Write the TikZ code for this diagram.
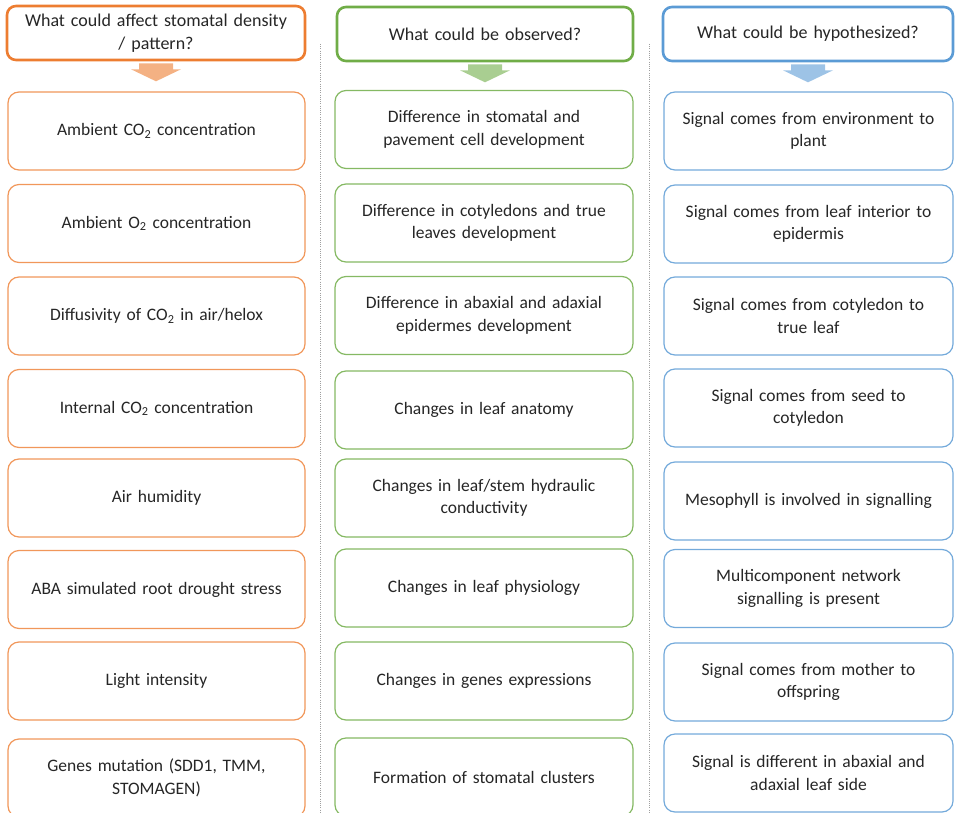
\documentclass[tikz,border=0pt]{standalone}
\usepackage{fontspec}
\setmainfont{Carlito}
\definecolor{orgL}{HTML}{ED7D31}
\definecolor{grnM}{HTML}{70AD47}
\definecolor{bluR}{HTML}{5B9BD5}
\begin{document}
\begin{tikzpicture}[x=1pt,y=-1pt]
	\tikzstyle{hd}=[rectangle,rounded corners=9pt,line width=2.6pt,fill=white,minimum height=54pt,text width=285pt,align=center,inner sep=0,font=\fontsize{18}{23}\selectfont,text=black!85]
	\tikzstyle{box}=[rectangle,rounded corners=11pt,line width=1.2pt,fill=white,minimum height=78pt,text width=285pt,align=center,inner sep=0,font=\fontsize{17.5}{22.5}\selectfont,text=black!85]
	\tikzstyle{sep}=[gray!75,line width=0.9pt,dash pattern=on 1pt off 1.2pt]
	
	\useasboundingbox (0,0) rectangle (955,813);
	
	% separators
	\coordinate (s1a) at (320,44);
	\coordinate (s1b) at (320,813);
	\coordinate (s2a) at (649,44);
	\coordinate (s2b) at (649,813);
	\draw[sep] (s1a)--(s1b);
	\draw[sep] (s2a)--(s2b);
	
	% headers
	\node [hd,draw=orgL,minimum width=298pt] (hL) at (156,33) {What could affect stomatal density\\ / pattern?};
	\node [hd,draw=grnM,minimum width=296pt] (hM) at (485,34) {What could be observed?};
	\node [hd,draw=bluR,minimum width=290pt,text width=280pt] (hR) at (808,34) {What could be hypothesized?};
	
	% block arrows
	\fill[orgL!60,shift={(hL.south)}] (-17,2)--(17,2)--(17,8)--(25,8)--(0,20)--(-25,8)--(-17,8)--cycle;
	\fill[grnM!60,shift={(hM.south)}] (-17,2)--(17,2)--(17,8)--(25,8)--(0,20)--(-25,8)--(-17,8)--cycle;
	\fill[bluR!60,shift={(hR.south)}] (-17,2)--(17,2)--(17,8)--(25,8)--(0,20)--(-25,8)--(-17,8)--cycle;
	
	% affecting factors
	\node [box,draw=orgL!80,minimum width=297pt] (l1) at (156.5,131) {Ambient CO\textsubscript{2} concentration};
	\node [box,draw=orgL!80,minimum width=297pt] (l2) at (156.5,223.5) {Ambient O\textsubscript{2} concentration};
	\node [box,draw=orgL!80,minimum width=297pt] (l3) at (156.5,316) {Diffusivity of CO\textsubscript{2} in air/helox};
	\node [box,draw=orgL!80,minimum width=297pt] (l4) at (156.5,408.5) {Internal CO\textsubscript{2} concentration};
	\node [box,draw=orgL!80,minimum width=297pt] (l5) at (156.5,498) {Air humidity};
	\node [box,draw=orgL!80,minimum width=297pt] (l6) at (156.5,589.5) {ABA simulated root drought stress};
	\node [box,draw=orgL!80,minimum width=297pt] (l7) at (156.5,681) {Light intensity};
	\node [box,draw=orgL!80,minimum width=297pt] (l8) at (156.5,778) {Genes mutation (SDD1, TMM,\\ STOMAGEN)};
	
	% observations
	\node [box,draw=grnM!85,minimum width=298pt] (m1) at (484,129.5) {Difference in stomatal and\\ pavement cell development};
	\node [box,draw=grnM!85,minimum width=298pt] (m2) at (484,223) {Difference in cotyledons and true\\ leaves development};
	\node [box,draw=grnM!85,minimum width=298pt] (m3) at (484,315.5) {Difference in abaxial and adaxial\\ epidermes development};
	\node [box,draw=grnM!85,minimum width=298pt] (m4) at (484,410) {Changes in leaf anatomy};
	\node [box,draw=grnM!85,minimum width=298pt] (m5) at (484,498) {Changes in leaf/stem hydraulic\\ conductivity};
	\node [box,draw=grnM!85,minimum width=298pt] (m6) at (484,588) {Changes in leaf physiology};
	\node [box,draw=grnM!85,minimum width=298pt] (m7) at (484,681) {Changes in genes expressions};
	\node [box,draw=grnM!85,minimum width=298pt] (m8) at (484,777) {Formation of stomatal clusters};
	
	% hypotheses
	\node [box,draw=bluR!85,minimum width=289pt,text width=280pt] (r1) at (808.5,131) {Signal comes from environment to\\ plant};
	\node [box,draw=bluR!85,minimum width=289pt,text width=280pt] (r2) at (808.5,224) {Signal comes from leaf interior to\\ epidermis};
	\node [box,draw=bluR!85,minimum width=289pt,text width=280pt] (r3) at (808.5,316) {Signal comes from cotyledon to\\ true leaf};
	\node [box,draw=bluR!85,minimum width=289pt,text width=280pt] (r4) at (808.5,408) {Signal comes from seed to\\ cotyledon};
	\node [box,draw=bluR!85,minimum width=289pt,text width=280pt] (r5) at (808.5,501) {Mesophyll is involved in signalling};
	\node [box,draw=bluR!85,minimum width=289pt,text width=280pt] (r6) at (808.5,588.5) {Multicomponent network\\ signalling is present};
	\node [box,draw=bluR!85,minimum width=289pt,text width=280pt] (r7) at (808.5,682) {Signal comes from mother to\\ offspring};
	\node [box,draw=bluR!85,minimum width=289pt,text width=280pt] (r8) at (808.5,773) {Signal is different in abaxial and\\ adaxial leaf side};
\end{tikzpicture}
\end{document}
